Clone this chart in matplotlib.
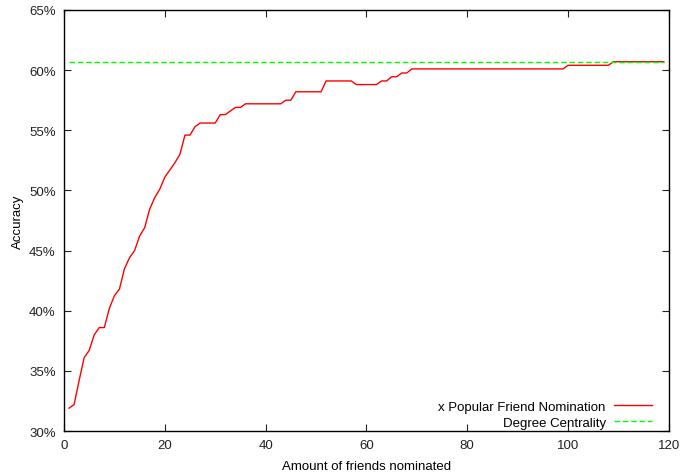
import matplotlib
matplotlib.use("Agg")
from matplotlib import pyplot as plt
from matplotlib.ticker import FuncFormatter
import numpy as np

# friends nominated 1..119, accuracy in percent
nominated = np.arange(1, 120)
popular = (
    [31.9, 32.2, 34.2, 36.1, 36.7, 38.0, 38.6, 38.6, 40.2, 41.25,
     41.8, 43.5, 44.4, 45.0, 46.2, 46.9, 48.45, 49.4, 50.1, 51.1,
     51.7, 52.3, 53.0, 54.6, 54.6, 55.3, 55.6, 55.6, 55.6, 55.6,
     56.3, 56.3, 56.6, 56.9, 56.9]
    + [57.2] * 8
    + [57.5, 57.5]
    + [58.2] * 6
    + [59.1] * 6
    + [58.8] * 5
    + [59.1, 59.1, 59.45, 59.45, 59.76, 59.76]
    + [60.1] * 31
    + [60.4] * 9
    + [60.7] * 11
)
degree_centrality = 60.7

fig = plt.figure(figsize=(6.86, 4.77), dpi=100)
ax = fig.add_axes([0.0933, 0.0943, 0.8817, 0.8827])

plt.rcParams['font.family'] = ['Liberation Sans', 'DejaVu Sans']
fs = 9.5

ax.plot(nominated, popular, color='#ff0000', lw=1.0, label='x Popular Friend Nomination')
ax.plot(nominated, [degree_centrality] * len(nominated), color='#00ff00', lw=1.0,
        dashes=(4, 2), label='Degree Centrality')

ax.set_xlim(0, 120)
ax.set_ylim(30, 65)
ax.set_xticks(np.arange(0, 121, 20))
ax.set_yticks(np.arange(30, 66, 5))
ax.yaxis.set_major_formatter(FuncFormatter(lambda v, p: "%d%%" % v))
ax.tick_params(direction='in', length=5, width=0.8, top=True, right=True,
               labelsize=fs, colors='#222222', pad=6)
for lbl in ax.get_xticklabels() + ax.get_yticklabels():
    lbl.set_family('Liberation Sans')
for s in ax.spines.values():
    s.set_linewidth(1.0)

ax.set_xlabel("Amount of friends nominated", fontsize=fs, family='Liberation Sans', labelpad=6)
ax.set_ylabel("Accuracy", fontsize=fs, family='Liberation Sans', labelpad=4)

leg = ax.legend(loc='lower right', bbox_to_anchor=(0.985, -0.013), frameon=False,
                markerfirst=False, handlelength=2.9, handletextpad=0.6,
                labelspacing=0.28, borderaxespad=0.2,
                prop={'family': 'Liberation Sans', 'size': fs})
for t in leg.get_texts():
    t.set_ha('right')

fig.savefig("out.png", dpi=100)
